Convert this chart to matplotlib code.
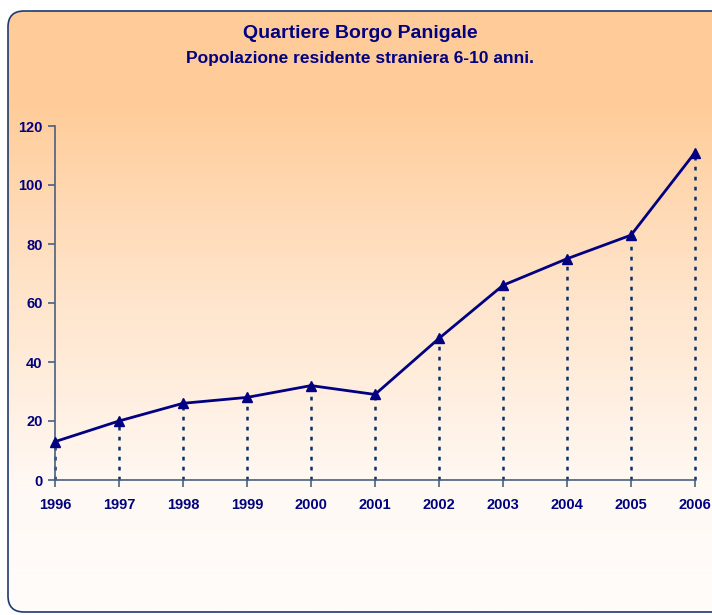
import numpy as np
import matplotlib
matplotlib.use("Agg")
import matplotlib.pyplot as plt
from matplotlib.patches import FancyBboxPatch
from matplotlib.colors import LinearSegmentedColormap

years = [1996, 1997, 1998, 1999, 2000, 2001, 2002, 2003, 2004, 2005, 2006]
values = [13, 20, 26, 28, 32, 29, 48, 66, 75, 83, 111]
yticks = [0, 20, 40, 60, 80, 100, 120]
title = "Quartiere Borgo Panigale"
subtitle = "Popolazione residente straniera 6-10 anni."

plt.rcParams['font.family'] = ['Liberation Sans', 'DejaVu Sans']
navy = "#000080"
W, H = 712, 615
fig = plt.figure(figsize=(W / 100, H / 100), dpi=100)

bg = fig.add_axes([0, 0, 1, 1])
bg.set_xlim(0, W)
bg.set_ylim(H, 0)
bg.axis('off')
cmap = LinearSegmentedColormap.from_list(
    "g", [(0, "#FFCC99"), (0.15, "#FFCC99"), (0.45, "#FFE3C8"), (0.8, "#FFF9F5"), (1, "#FFFCFA")])
grad = np.linspace(0, 1, 300).reshape(-1, 1)
im = bg.imshow(grad, cmap=cmap, aspect='auto', extent=[8, W + 20, 612, 11], zorder=0)
frame = FancyBboxPatch((8, 11), W + 20, 601, boxstyle="round,pad=0,rounding_size=16",
                       facecolor='none', edgecolor="#1F3A6E", linewidth=1.2, zorder=2)
bg.add_patch(frame)
im.set_clip_path(frame)

fig.text(0.5 + 4 / W, 1 - 34 / H, title, ha='center', va='center', fontsize=14,
         fontweight='bold', color=navy)
fig.text(0.5 + 4 / W, 1 - 58 / H, subtitle, ha='center', va='center', fontsize=12.5,
         fontweight='bold', color=navy)

ax = fig.add_axes([55 / W, 1 - 480 / H, (695 - 55) / W, (480 - 126) / H])
ax.patch.set_alpha(0)
ax.set_xlim(1996, 2006)
ax.set_ylim(0, 120)
ax.vlines(years, 0, values, colors="#0A2F66", linestyles=(0, (1.5, 2.5)), linewidth=1.8,
          zorder=2, clip_on=False)
ax.plot(years, values, color=navy, linewidth=2, marker='^', markersize=7,
        markerfacecolor=navy, markeredgecolor=navy, clip_on=False, zorder=3)
ax.set_xticks(years)
ax.set_xticklabels([str(y) for y in years])
ax.set_yticks(yticks)
for s in ['top', 'right']:
    ax.spines[s].set_visible(False)
for s in ['left', 'bottom']:
    ax.spines[s].set_color("#4A6080")
    ax.spines[s].set_linewidth(1.2)
ax.tick_params(axis='both', colors="#4A6080", length=5, width=1.2, direction='out')
ax.tick_params(axis='x', pad=8)
ax.tick_params(axis='y', pad=4)
for lab in ax.get_xticklabels() + ax.get_yticklabels():
    lab.set_color(navy)
    lab.set_fontweight('bold')
    lab.set_fontsize(10.5)

fig.savefig("out.png", dpi=100)
